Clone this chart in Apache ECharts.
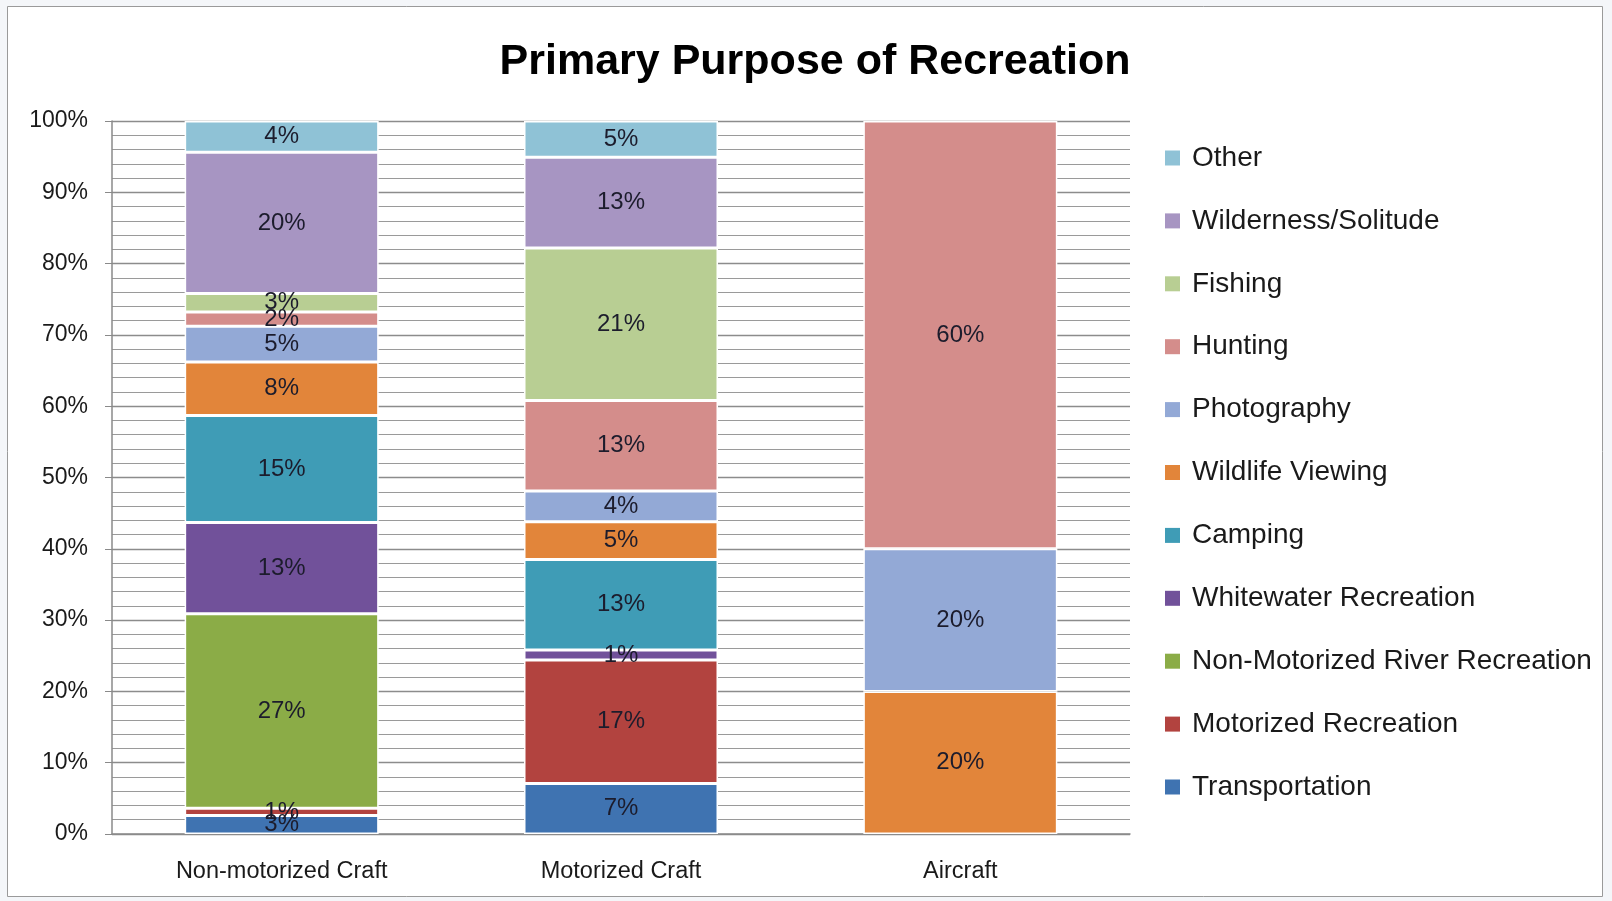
<!DOCTYPE html>
<html>
<head>
<meta charset="utf-8">
<script src="https://cdn.jsdelivr.net/npm/echarts@6/dist/echarts.min.js"></script>
<style>
html,body{margin:0;padding:0;background:#f4f6f9;}
#c{width:1612px;height:901px;}
</style>
</head>
<body>
<div id="c"></div>
<script>
const categories = ['Non-motorized Craft', 'Motorized Craft', 'Aircraft'];
// bottom to top stacking order
const seriesNames = ['Transportation', 'Motorized Recreation', 'Non-Motorized River Recreation', 'Whitewater Recreation', 'Camping', 'Wildlife Viewing', 'Photography', 'Hunting', 'Fishing', 'Wilderness/Solitude', 'Other'];
const transportation = [2.6, 7.1, 0];
const motorizedRecreation = [1.0, 17.3, 0];
const nonMotorizedRiver = [27.3, 0, 0];
const whitewater = [12.8, 1.4, 0];
const camping = [15.0, 12.7, 0];
const wildlifeViewing = [7.5, 5.3, 20];
const photography = [5.0, 4.3, 20];
const hunting = [2.0, 12.7, 60];
const fishing = [2.6, 21.4, 0];
const wilderness = [19.8, 12.7, 0];
const other = [4.4, 5.1, 0];
const yTicks = [0, 10, 20, 30, 40, 50, 60, 70, 80, 90, 100];

const seriesValues = [transportation, motorizedRecreation, nonMotorizedRiver, whitewater, camping, wildlifeViewing, photography, hunting, fishing, wilderness, other];
const colors = ['#3f73b1', '#b2433f', '#8bac47', '#71519a', '#3f9cb6', '#e2853a', '#93a9d6', '#d48d8b', '#b8ce93', '#a795c2', '#8fc2d6'];

const FONT = '"Liberation Sans", Arial, sans-serif';

const chart = echarts.init(document.getElementById('c'));
chart.setOption({
  backgroundColor: '#f4f6f9',
  animation: false,
  graphic: [{
    type: 'rect', z: -10,
    shape: {x: 7.5, y: 6.5, width: 1595, height: 890},
    style: {fill: '#ffffff', stroke: '#9a9a9a', lineWidth: 1}
  }],
  title: {
    text: 'Primary Purpose of Recreation',
    left: 810, top: 36, textAlign: 'center',
    textStyle: {fontFamily: FONT, fontWeight: 'bold', fontSize: 43, color: '#000'}
  },
  legend: {
    orient: 'vertical',
    left: 1165, top: 141, padding: 0,
    icon: 'rect', itemWidth: 15, itemHeight: 15, itemGap: 28.9,
    data: seriesNames.slice().reverse(),
    itemStyle: {borderWidth: 0},
    textStyle: {fontFamily: FONT, fontSize: 28, color: '#1a1a1a', lineHeight: 34, padding: [0, 0, 0, 7]},
    selectedMode: false
  },
  grid: {left: 112, right: 482, top: 121, bottom: 67, containLabel: false},
  xAxis: {
    type: 'category', data: categories,
    axisLine: {show: true, lineStyle: {color: '#8a8a8a', width: 1.5}},
    axisTick: {show: false},
    axisLabel: {fontFamily: FONT, fontSize: 23.5, color: '#1a1a1a', margin: 26}
  },
  yAxis: {
    type: 'value', min: yTicks[0], max: yTicks[yTicks.length - 1], interval: 10,
    axisLine: {show: true, lineStyle: {color: '#8a8a8a', width: 1.5}},
    axisTick: {show: true, length: 7, lineStyle: {color: '#8a8a8a'}},
    axisLabel: {formatter: '{value}%', fontFamily: FONT, fontSize: 23, color: '#1a1a1a', margin: 24},
    splitLine: {show: true, lineStyle: {color: '#8c8c8c', width: 1.3}},
    minorTick: {show: false, splitNumber: 5},
    minorSplitLine: {show: true, lineStyle: {color: '#9a9a9a', width: 1}}
  },
  series: seriesNames.map((name, i) => ({
    name: name,
    type: 'bar',
    stack: 'total',
    barWidth: 194,
    data: seriesValues[i].map(v => v > 0 ? v : null),
    itemStyle: {color: colors[i], borderColor: '#ffffff', borderWidth: 1.5},
    label: {
      show: true, position: 'inside',
      formatter: p => (p.value > 0 ? Math.round(p.value) + '%' : ''),
      fontFamily: FONT, fontSize: 24, color: '#1c1c2c'
    }
  }))
});
</script>
</body>
</html>
